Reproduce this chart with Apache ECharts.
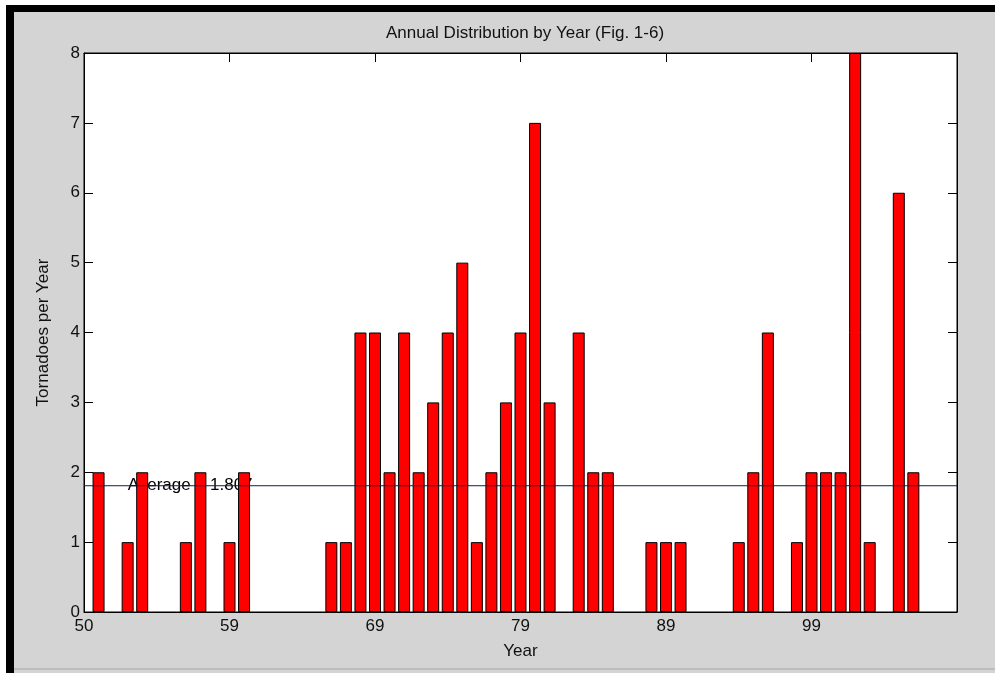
<!DOCTYPE html>
<html>
<head>
<meta charset="utf-8">
<script src="https://cdn.jsdelivr.net/npm/echarts@6/dist/echarts.min.js"></script>
<style>
  html, body { margin: 0; padding: 0; background: #d4d4d4; }
  #chart { width: 995px; height: 673px; }
</style>
</head>
<body>
<div id="chart"></div>
<script>
// 年份 1950-2006
var years = [];
for (var y = 1950; y <= 2006; y++) years.push(y);

// 每年龙卷风数量
var counts = [2, 0, 1, 2, 0, 0, 1, 2, 0, 1,
              2, 0, 0, 0, 0, 0, 1, 1, 4, 4,
              2, 4, 2, 3, 4, 5, 1, 2, 3, 4,
              7, 3, 0, 4, 2, 2, 0, 0, 1, 1,
              1, 0, 0, 0, 1, 2, 4, 0, 1, 2,
              2, 2, 8, 1, 0, 6, 2];

// x轴刻度标签 (1949, 1959, ... 2009)
var xTickLabels = ['50', '59', '69', '79', '89', '99', ''];

var average = 1.807;

var chart = echarts.init(document.getElementById('chart'));

var font = 'Arial, "Liberation Sans", sans-serif';
var textColor = '#111';

// 数量为0的年份不画柱子
var barData = [];
years.forEach(function (yr, i) {
    if (counts[i] > 0) barData.push([yr, counts[i]]);
});

var option = {
    backgroundColor: '#d4d4d4',
    animation: false,
    title: {
        text: 'Annual Distribution by Year (Fig. 1-6)',
        left: 520,
        textAlign: 'center',
        top: 20,
        textStyle: { fontFamily: font, fontSize: 17, fontWeight: 'normal', color: textColor }
    },
    grid: {
        left: 84, right: 38, top: 53, bottom: 61,
        show: true, backgroundColor: '#ffffff', borderColor: '#000', borderWidth: 1
    },
    xAxis: [{
        type: 'value',
        min: 1949, max: 2009, interval: 10,
        name: 'Year',
        nameLocation: 'middle',
        nameGap: 31,
        nameTextStyle: { fontFamily: font, fontSize: 17, color: textColor },
        axisLine: { onZero: false, lineStyle: { color: '#000' } },
        axisTick: { inside: true, length: 9, lineStyle: { color: '#000' } },
        axisLabel: {
            fontFamily: font, fontSize: 17, color: textColor, margin: 6,
            formatter: function (v) { return xTickLabels[Math.round((v - 1949) / 10)]; }
        },
        splitLine: { show: false }
    }, {
        type: 'value',
        position: 'top',
        min: 1949, max: 2009, interval: 10,
        axisLine: { onZero: false, lineStyle: { color: '#000' } },
        axisTick: { inside: true, length: 9, lineStyle: { color: '#000' } },
        axisLabel: { show: false },
        splitLine: { show: false }
    }],
    yAxis: [{
        type: 'value',
        min: 0, max: 8, interval: 1,
        name: 'Tornadoes per Year',
        nameLocation: 'middle',
        nameGap: 32,
        nameTextStyle: { fontFamily: font, fontSize: 17, color: textColor },
        axisLine: { show: true, onZero: false, lineStyle: { color: '#000' } },
        axisTick: { show: true, inside: true, length: 9, lineStyle: { color: '#000' } },
        axisLabel: { fontFamily: font, fontSize: 17, color: textColor, margin: 4 },
        splitLine: { show: false }
    }, {
        type: 'value',
        position: 'right',
        min: 0, max: 8, interval: 1,
        axisLine: { show: true, onZero: false, lineStyle: { color: '#000' } },
        axisTick: { show: true, inside: true, length: 9, lineStyle: { color: '#000' } },
        axisLabel: { show: false },
        splitLine: { show: false }
    }],
    series: [
        {
            // 平均值文字 (在柱子后面)
            type: 'scatter',
            z: 1,
            symbolSize: 0,
            silent: true,
            data: [[1952, average]],
            label: {
                show: true, position: 'right', distance: 0,
                formatter: 'Average = ' + average,
                fontFamily: font, fontSize: 17, color: '#000', opacity: 1
            }
        },
        {
            type: 'bar',
            z: 2,
            barWidth: 12,
            data: barData,
            itemStyle: { color: '#ff0000', borderColor: '#000', borderWidth: 1 }
        },
        {
            // 平均线
            type: 'line',
            z: 3,
            symbol: 'none',
            data: [[1949, average], [2009, average]],
            lineStyle: { color: '#1a1a55', width: 1 }
        }
    ],
    graphic: [
        { type: 'rect', shape: { x: 0, y: 0, width: 995, height: 5 }, style: { fill: '#ffffff' } },
        { type: 'rect', shape: { x: 0, y: 0, width: 6, height: 673 }, style: { fill: '#ffffff' } },
        { type: 'rect', shape: { x: 6, y: 5, width: 989, height: 7 }, style: { fill: '#000000' } },
        { type: 'rect', shape: { x: 6, y: 5, width: 8, height: 668 }, style: { fill: '#000000' } },
        { type: 'rect', shape: { x: 14, y: 668, width: 981, height: 2 }, style: { fill: '#bdbdbd' } }
    ]
};

chart.setOption(option);
</script>
</body>
</html>
